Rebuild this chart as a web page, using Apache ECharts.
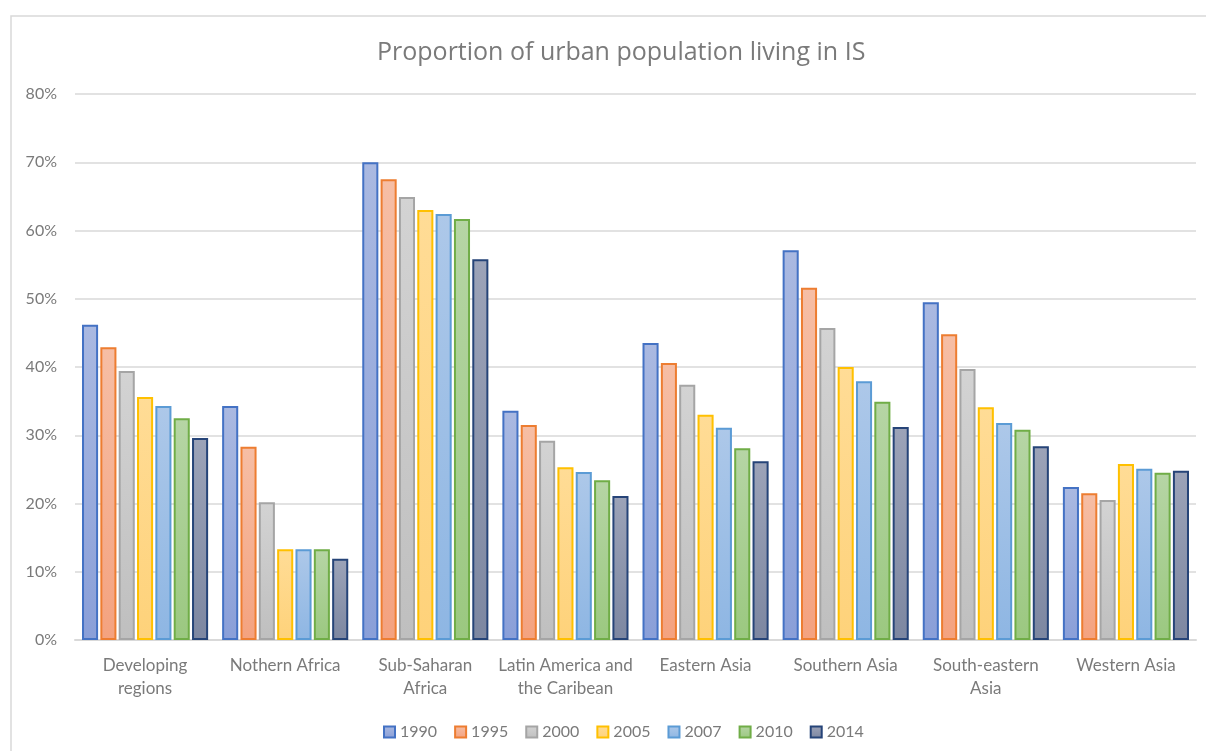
<!DOCTYPE html>
<html><head><meta charset="utf-8">
<script src="https://cdn.jsdelivr.net/npm/echarts@6/dist/echarts.min.js"></script>
<style>html,body{margin:0;padding:0;background:#fff}#c{width:1206px;height:751px}</style>
</head><body><div id="c"></div>
<script>
const categories = ["Developing\nregions", "Nothern Africa", "Sub-Saharan\nAfrica", "Latin America and\nthe Caribean", "Eastern Asia", "Southern Asia", "South-eastern\nAsia", "Western Asia"];
const years = ["1990", "1995", "2000", "2005", "2007", "2010", "2014"];
const v1990 = [46.2, 34.3, 70.0, 33.6, 43.5, 57.1, 49.5, 22.4];
const v1995 = [42.9, 28.3, 67.5, 31.5, 40.6, 51.6, 44.8, 21.5];
const v2000 = [39.4, 20.2, 64.9, 29.2, 37.4, 45.7, 39.7, 20.5];
const v2005 = [35.6, 13.3, 63.0, 25.3, 33.0, 40.0, 34.1, 25.8];
const v2007 = [34.3, 13.3, 62.4, 24.6, 31.1, 37.9, 31.8, 25.1];
const v2010 = [32.5, 13.3, 61.7, 23.4, 28.1, 34.9, 30.8, 24.5];
const v2014 = [29.6, 11.9, 55.8, 21.1, 26.2, 31.2, 28.4, 24.8];
const seriesValues = [v1990, v1995, v2000, v2005, v2007, v2010, v2014];
const yTicks = [0, 10, 20, 30, 40, 50, 60, 70, 80];

const borders = ["#4472C4", "#ED7D31", "#A5A5A5", "#FFC000", "#5B9BD5", "#70AD47", "#264478"];
const tops = ["#AAB9E1", "#F6BEA5", "#D3D3D3", "#FFDC96", "#ADC8E9", "#B6D5A5", "#9CA3B8"];
const bottoms = ["#8A9FD8", "#F4A27F", "#BFBFBF", "#FED27A", "#8EB6E3", "#9BC880", "#7D87A1"];
const txt = "#7A7A7A";
const font = "Lato, 'Open Sans', sans-serif";

const chart = echarts.init(document.getElementById('c'));
chart.setOption({
  animation: false,
  backgroundColor: '#fff',
  graphic: [{type: 'rect', shape: {x: 11, y: 16, width: 1300, height: 800}, style: {fill: 'none', stroke: '#D9D9D9', lineWidth: 1.5}, silent: true}],
  title: {text: 'Proportion of urban population living in IS', left: 372, top: 35,
    textStyle: {color: txt, fontSize: 25, fontWeight: 'normal', fontFamily: "'Open Sans', Lato, sans-serif"}},
  grid: {left: 75, right: 10, top: 94, bottom: 111, containLabel: false},
  legend: {data: years, left: 378, top: 719, icon: 'rect', itemWidth: 11, itemHeight: 11, itemGap: 17,
    textStyle: {color: txt, fontSize: 16, fontFamily: font}},
  xAxis: {type: 'category', data: categories,
    axisLine: {lineStyle: {color: '#D9D9D9', width: 2}}, axisTick: {show: false},
    axisLabel: {color: txt, fontSize: 17, fontFamily: font, lineHeight: 23, margin: 14, interval: 0}},
  yAxis: {type: 'value', min: 0, max: 80, interval: 10,
    axisLine: {show: false}, axisTick: {show: false},
    splitLine: {lineStyle: {color: '#D9D9D9', width: 1.5}},
    axisLabel: {color: txt, fontSize: 16, fontFamily: font, margin: 18, formatter: v => yTicks.includes(v) ? v + '%' : ''}},
  series: years.map((y, i) => ({
    name: y, type: 'bar', data: seriesValues[i], barGap: '14%', barCategoryGap: '10%',
    itemStyle: {borderColor: borders[i], borderWidth: 2,
      color: new echarts.graphic.LinearGradient(0, 0, 0, 1, [{offset: 0, color: tops[i]}, {offset: 1, color: bottoms[i]}])}
  }))
});
</script></body></html>
